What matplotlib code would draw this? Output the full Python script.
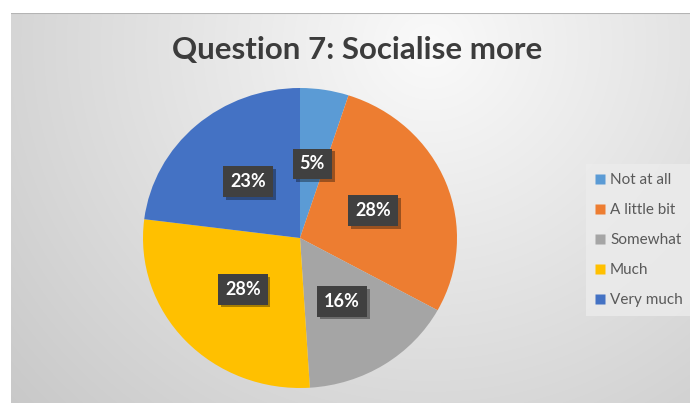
import numpy as np
import matplotlib
matplotlib.use("Agg")
import matplotlib.pyplot as plt
import matplotlib.patheffects as pe
from matplotlib.lines import Line2D

# Survey answers
categories = ["Not at all", "A little bit", "Somewhat", "Much", "Very much"]
shares = [5, 28, 16, 28, 23]
colors = ["#5B9BD5", "#ED7D31", "#A5A5A5", "#FFC000", "#4472C4"]
title = "Question 7: Socialise more"

plt.rcParams["font.family"] = ["Lato", "DejaVu Sans"]

W, H = 690, 403
fig = plt.figure(figsize=(W / 100, H / 100), dpi=100)
fig.patch.set_facecolor("white")

# Chart area with a soft radial grey fill
left_px, top_px = 11, 13
bg = fig.add_axes([left_px / W, 0, (W - left_px) / W, (H - top_px) / H])
xx, yy = np.meshgrid(np.arange(left_px, W), np.arange(top_px, H))
dist = np.hypot(xx - 430, (yy - 45) * 1.05)
shade = np.clip(250 - 0.088 * dist, 195, 250) / 255.0
bg.imshow(np.dstack([shade] * 3), aspect="auto", interpolation="bilinear",
          extent=(0, 1, 0, 1))
bg.axhline(1, color="#b4b4b4", lw=1.5)
bg.set_axis_off()
bg.set_xlim(0, 1)
bg.set_ylim(0, 1)

# Pie (slightly wider than tall)
cx, cy, rx, ry = 300, 238, 157, 150
ax = fig.add_axes([(cx - rx) / W, 1 - (cy + ry) / H, 2 * rx / W, 2 * ry / H])
wedges, _, autotexts = ax.pie(
    shares, colors=colors, startangle=90, counterclock=False,
    autopct=lambda p: f"{p:.0f}%", pctdistance=0.5,
    wedgeprops=dict(linewidth=0),
    textprops=dict(color="white", fontsize=13, fontweight="bold"),
)
ax.set_aspect("auto")
ax.set_xlim(-1, 1)
ax.set_ylim(-1, 1)
ax.set_axis_off()

for t in autotexts:
    t.set_bbox(dict(boxstyle="square,pad=0.38", facecolor="#404040",
                    edgecolor="none"))
    t.get_bbox_patch().set_path_effects([
        pe.SimplePatchShadow(offset=(2, -2), shadow_rgbFace="black", alpha=0.35),
        pe.Normal(),
    ])

fig.text(357 / W, 1 - 50 / H, title, ha="center", va="center",
         fontsize=22.5, fontweight="bold", color="#3c3c3c")

handles = [Line2D([], [], marker="s", linestyle="none", markersize=7,
                  markerfacecolor=c, markeredgecolor="none") for c in colors]
leg = fig.legend(handles, categories, loc="center left",
                 bbox_to_anchor=(578 / W, 1 - 240 / H), frameon=True,
                 fontsize=11, labelspacing=1.05, handlelength=0.7,
                 handletextpad=0.3, borderpad=0.6, labelcolor="#595959",
                 fancybox=False)
leg.get_frame().set_facecolor("#ececec")
leg.get_frame().set_edgecolor("none")
leg.get_frame().set_alpha(0.8)

fig.savefig("out.png", dpi=100)
